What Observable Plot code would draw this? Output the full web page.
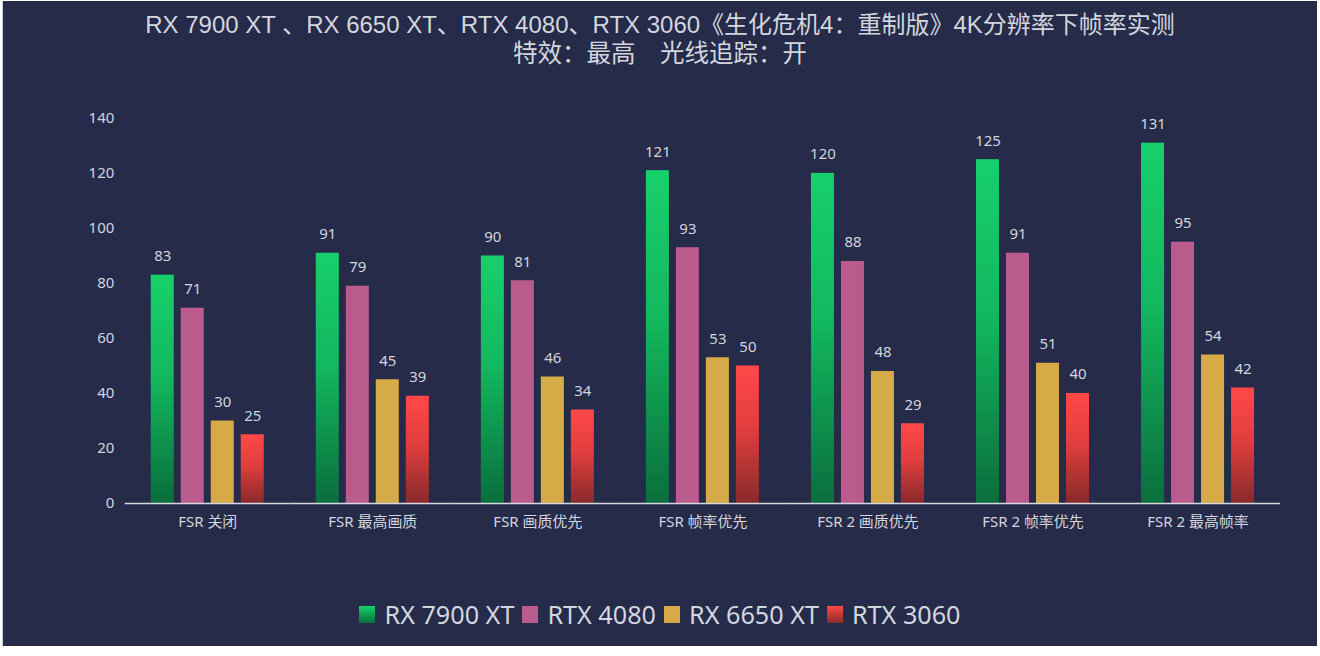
<!DOCTYPE html>
<html><head><meta charset="utf-8">
<script src="https://cdn.jsdelivr.net/npm/d3@7"></script>
<script src="https://cdn.jsdelivr.net/npm/@observablehq/plot@0.6"></script>
<style>
html,body{margin:0;padding:0;background:#fff;}
#wrap{position:absolute;left:2px;top:1px;width:1314px;height:645px;background:#252b49;border-left:1px solid #c9ccd4;overflow:hidden;font-family:"Noto Sans","Noto Sans CJK SC",sans-serif;}
.title{position:absolute;left:0;width:1314px;text-align:center;color:#d3d6de;font-size:24px;line-height:26px;height:26px;font-family:"Liberation Sans","Noto Sans CJK SC",sans-serif;white-space:nowrap;}
#t1{top:11px;}
#t2{top:40px;font-size:24.5px;}
#chart{position:absolute;left:-3px;top:81px;}
#legend{position:absolute;left:0;top:596px;width:1314px;display:flex;justify-content:center;align-items:center;color:#d3d6de;font-size:25.2px;}
#legend .it{display:flex;align-items:center;margin:0 4px;}
#legend .sw{width:16px;height:17px;margin-right:9px;}
</style></head>
<body>
<div id="wrap">
<div class="title" id="t1">RX 7900 XT 、RX 6650 XT、RTX 4080、RTX 3060《生化危机4：重制版》4K分辨率下帧率实测</div>
<div class="title" id="t2">特效：最高　光线追踪：开</div>
<div id="chart"></div>
<div id="legend"></div>
</div>
<script>
const categories = ["FSR 关闭","FSR 最高画质","FSR 画质优先","FSR 帧率优先","FSR 2 画质优先","FSR 2 帧率优先","FSR 2 最高帧率"];
const series = ["RX 7900 XT","RTX 4080","RX 6650 XT","RTX 3060"];
const rx7900xt = [83,91,90,121,120,125,131];
const rtx4080 = [71,79,81,93,88,91,95];
const rx6650xt = [30,45,46,53,48,51,54];
const rtx3060 = [25,39,34,50,29,40,42];
const yTicks = [0,20,40,60,80,100,120,140];

const valuesBySeries = [rx7900xt, rtx4080, rx6650xt, rtx3060];
const fills = ["url(#gGreen)","#b95b8c","#d6aa46","url(#gRed)"];
const legendFills = ["linear-gradient(#17d06b,#0a6e3c)","#b95b8c","#d6aa46","linear-gradient(#ff4848,#8a2a2a)"];

const data = [];
categories.forEach((c, i) => series.forEach((s, j) => data.push({category: c, series: s, value: valuesBySeries[j][i]})));

const textColor = "#d3d6de";
const plot = Plot.plot({
  width: 1320,
  height: 470,
  marginTop: 36,
  marginBottom: 48,
  marginLeft: 125,
  marginRight: 37,
  style: {background: "transparent", color: textColor, fontFamily: "'Noto Sans','Noto Sans CJK SC',sans-serif", fontSize: "15px"},
  fx: {domain: categories, padding: 0, round: false, label: null},
  x: {domain: series, paddingInner: 0.233, paddingOuter: 0.867, round: false, axis: null},
  y: {domain: [0, 140], label: null},
  color: {domain: series, range: fills},
  marks: [
    Plot.axisY({ticks: yTicks, tickSize: 0, tickPadding: 11, fontSize: 15, fill: textColor, label: null}),
    Plot.axisFx({anchor: "bottom", tickSize: 0, tickPadding: 13, fontSize: 15, fill: textColor, label: null}),
    Plot.barY(data, {fx: "category", x: "series", y: "value", fill: "series"}),
    Plot.ruleY([0], {stroke: "#d6d8de", strokeWidth: 1.5}),
    Plot.text(data, {fx: "category", x: "series", y: "value", text: d => String(d.value), dy: -19, fill: textColor, fontSize: 15})
  ]
});
const svg = d3.select(plot);
const defs = svg.insert("defs", ":first-child");
const g1 = defs.append("linearGradient").attr("id","gGreen").attr("x1",0).attr("y1",0).attr("x2",0).attr("y2",1);
g1.append("stop").attr("offset","0%").attr("stop-color","#17d06b");
g1.append("stop").attr("offset","45%").attr("stop-color","#13b85e");
g1.append("stop").attr("offset","100%").attr("stop-color","#0a6e3c");
const g2 = defs.append("linearGradient").attr("id","gRed").attr("x1",0).attr("y1",0).attr("x2",0).attr("y2",1);
g2.append("stop").attr("offset","0%").attr("stop-color","#ff4848");
g2.append("stop").attr("offset","45%").attr("stop-color","#e23e3e");
g2.append("stop").attr("offset","100%").attr("stop-color","#8a2a2a");
document.getElementById("chart").appendChild(plot);

const lg = d3.select("#legend");
series.forEach((s, j) => {
  const it = lg.append("div").attr("class","it");
  it.append("div").attr("class","sw").style("background", legendFills[j]);
  it.append("span").text(s);
});
</script>
</body></html>
